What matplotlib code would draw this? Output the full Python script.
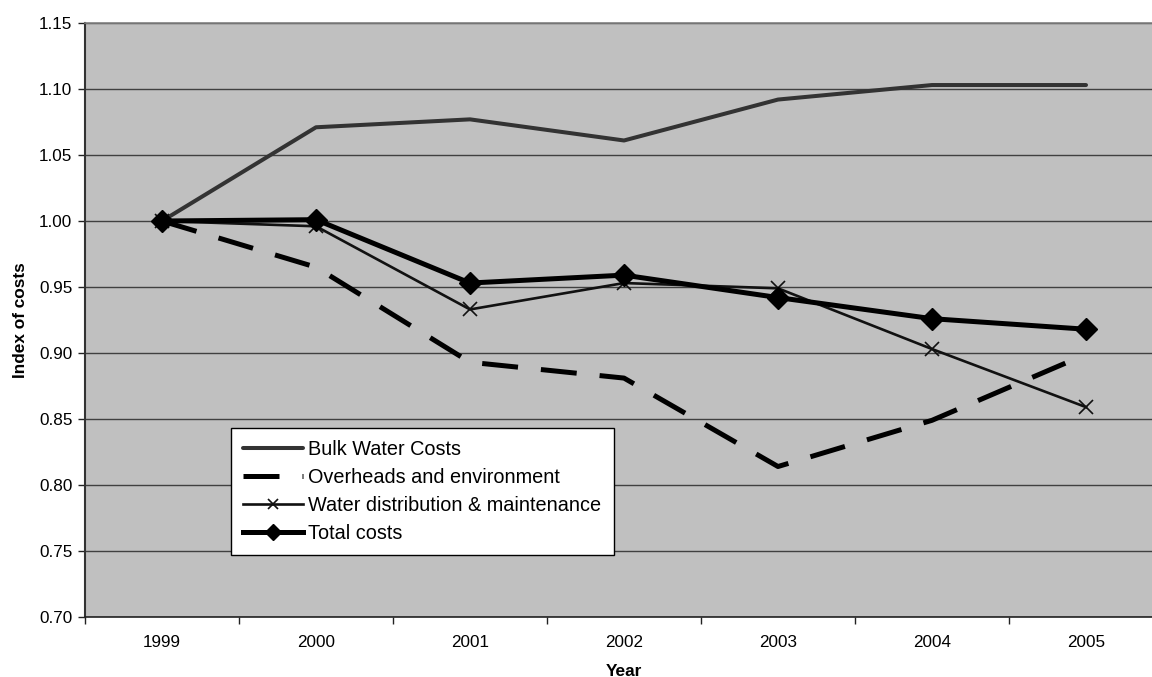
import matplotlib.pyplot as plt
import numpy as np

plt.rcParams['font.family'] = ['Liberation Sans', 'DejaVu Sans']

years = ["1999", "2000", "2001", "2002", "2003", "2004", "2005"]
bulk_water = [1.000, 1.071, 1.077, 1.061, 1.092, 1.103, 1.103]
overheads = [1.000, 0.965, 0.893, 0.881, 0.814, 0.849, 0.899]
distribution = [1.000, 0.996, 0.933, 0.953, 0.949, 0.903, 0.859]
total = [1.000, 1.001, 0.953, 0.959, 0.942, 0.926, 0.918]
y_ticks = [0.70, 0.75, 0.80, 0.85, 0.90, 0.95, 1.00, 1.05, 1.10, 1.15]

W, H = 1152, 677
fig = plt.figure(figsize=(W / 100, H / 100), dpi=100)
# the plot area runs past the right edge of the picture, as in the original
ax = fig.add_axes([85 / W, 60 / H, (1163 - 85) / W, (617 - 23) / H])
ax.set_facecolor('#c0c0c0')

x = np.arange(len(years))

ax.plot(x, bulk_water, color='#333333', lw=2.9, solid_capstyle='round',
        label='Bulk Water Costs', zorder=3)
ax.plot(x, overheads, color='black', lw=3.6, dashes=(7.2, 4.6),
        label='Overheads and environment', zorder=3)
ax.plot(x, distribution, color='#111111', lw=1.9, marker='x', ms=10, mew=1.2,
        label='Water distribution & maintenance', zorder=4)
ax.plot(x, total, color='black', lw=3.6, marker='D', ms=11,
        label='Total costs', zorder=5)

ax.set_xlim(-0.5, len(years) - 0.5)
ax.set_ylim(0.70, 1.15)
ax.set_yticks(y_ticks)
ax.set_yticklabels([f"{v:.2f}" for v in y_ticks], fontsize=12.3)
ax.set_xticks(x)
ax.set_xticklabels(years, fontsize=12.3)
ax.set_xticks(np.arange(len(years) + 1) - 0.5, minor=True)
ax.tick_params(axis='x', which='major', length=0, pad=13)
ax.tick_params(axis='x', which='minor', length=5, width=1, color='#222222')
ax.tick_params(axis='y', length=5, width=1, color='#222222', pad=4)

ax.grid(axis='y', color='#404040', lw=1)
ax.set_axisbelow(True)

ax.spines['right'].set_visible(False)
ax.spines['top'].set_color('#808080')
ax.spines['top'].set_linewidth(1.2)
ax.spines['left'].set_color('#333333')
ax.spines['left'].set_linewidth(1.5)
ax.spines['bottom'].set_color('#222222')
ax.spines['bottom'].set_linewidth(1.2)

ax.set_ylabel('Index of costs', fontsize=12.4, fontweight='bold', labelpad=8)
ax.set_xlabel('Year', fontsize=12.4, fontweight='bold', labelpad=10)

leg = ax.legend(loc='upper left', bbox_to_anchor=((231 - 85) / (1163 - 85), (617 - 428) / (617 - 23)),
                fontsize=14.3, frameon=True, fancybox=False, edgecolor='black',
                facecolor='white', framealpha=1, handlelength=3.0, handletextpad=0.3,
                labelspacing=0.46, borderpad=0.6, borderaxespad=0, markerscale=0.75)
leg.get_frame().set_linewidth(1)

fig.savefig('out.png', dpi=100)
